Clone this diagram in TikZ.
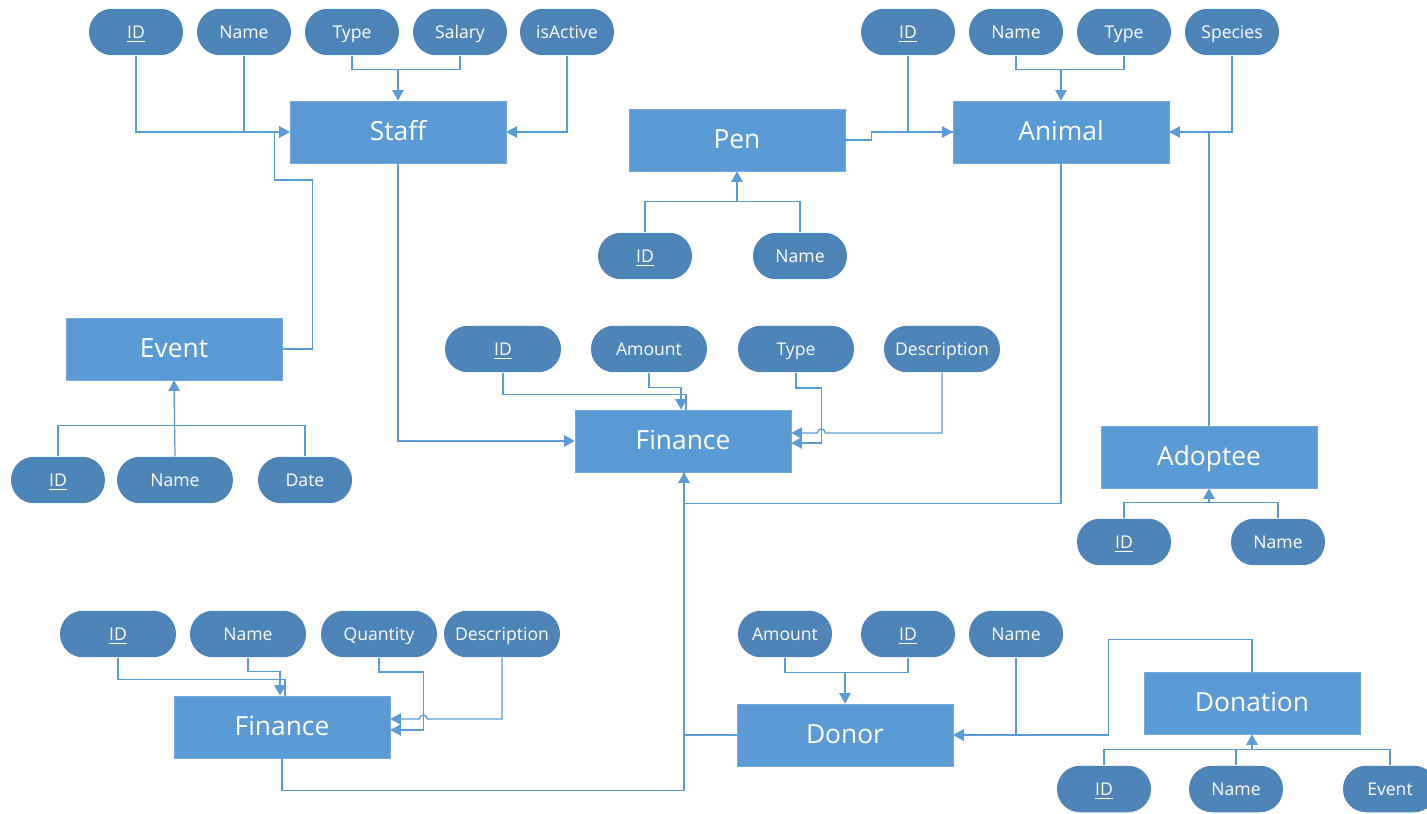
\documentclass[tikz,border=0pt]{standalone}
\usepackage{fontspec}
\setmainfont{Open Sans}
\usetikzlibrary{arrows.meta,calc}
\definecolor{entfill}{HTML}{5B9BD5}
\definecolor{attrfill}{HTML}{4E85B9}
\definecolor{linecol}{HTML}{5B9BD5}
\tikzset{
  ent/.style={rectangle, fill=entfill, draw=entfill!85!white, text=white, font=\fontsize{15}{18}\selectfont, minimum width=4.32cm, minimum height=1.24cm, inner sep=0pt, text height=12pt, text depth=2pt},
  attr/.style={rectangle, rounded corners=0.46cm, fill=attrfill, text=white, font=\fontsize{10}{12}\selectfont, minimum width=1.88cm, minimum height=0.93cm, inner sep=0pt, text height=9pt, text depth=1.5pt},
  wattr/.style={attr, minimum width=2.32cm},
  conn/.style={draw=linecol, line width=0.7pt},
  arr/.style={conn, -{Triangle[length=6pt,width=6.5pt]}}
}
\begin{document}
\begin{tikzpicture}[x=0.02cm,y=-0.02cm]
\useasboundingbox (0,0) rectangle (1427,814);
\clip (0,0) rectangle (1427,814);
% ---------- Staff ----------
\node[ent] (staff) at (398,132) {Staff};
\node[attr] (sID) at (136,32) {\underline{ID}};
\node[attr] (sName) at (244,32) {Name};
\node[attr] (sType) at (352,32) {Type};
\node[attr] (sSal) at (460,32) {Salary};
\node[attr] (sAct) at (567,32) {isActive};
% ---------- Event ----------
\node[ent] (event) at (174,349) {Event};
\node[attr] (eID) at (58,480) {\underline{ID}};
\node[wattr] (eName) at (175,480) {Name};
\node[attr] (eDate) at (305,480) {Date};
% ---------- Pen ----------
\node[ent] (pen) at (737,140) {Pen};
\node[attr] (pID) at (645,256) {\underline{ID}};
\node[attr] (pName) at (800,256) {Name};
% ---------- Animal ----------
\node[ent] (animal) at (1061,132) {Animal};
\node[attr] (aID) at (908,32) {\underline{ID}};
\node[attr] (aName) at (1016,32) {Name};
\node[attr] (aType) at (1124,32) {Type};
\node[attr] (aSpe) at (1232,32) {Species};
% ---------- Finance (upper) ----------
\node[ent] (fin) at (683,441) {Finance};
\node[wattr] (fID) at (503,349) {\underline{ID}};
\node[wattr] (fAmt) at (649,349) {Amount};
\node[wattr] (fType) at (796,349) {Type};
\node[wattr] (fDesc) at (942,349) {Description};
% ---------- Adoptee ----------
\node[ent] (adoptee) at (1209,457) {Adoptee};
\node[attr] (adID) at (1124,542) {\underline{ID}};
\node[attr] (adName) at (1278,542) {Name};
% ---------- Finance (lower) ----------
\node[ent] (fin2) at (282,727) {Finance};
\node[wattr] (f2ID) at (118,634) {\underline{ID}};
\node[wattr] (f2Name) at (248,634) {Name};
\node[wattr] (f2Q) at (379,634) {Quantity};
\node[wattr] (f2D) at (502,634) {Description};
% ---------- Donor ----------
\node[ent] (donor) at (845,735) {Donor};
\node[attr] (dAmt) at (785,634) {Amount};
\node[attr] (dID) at (908,634) {\underline{ID}};
\node[attr] (dName) at (1016,634) {Name};
% ---------- Donation ----------
\node[ent] (donation) at (1252,703) {Donation};
\node[attr] (dnID) at (1104,789) {\underline{ID}};
\node[attr] (dnName) at (1236,789) {Name};
\node[attr] (dnEv) at (1390,789) {Event};

% ===== connectors =====
% Staff attributes
\draw[arr] (sID.south) |- (staff.west);
\draw[conn] (sName.south) -- (sName.south |- staff.west);
\draw[conn] (sType.south) -- ++(0,14) -| (sSal.south);
\draw[arr] ($(staff.north)+(0,-31)$) -- (staff.north);
\draw[arr] (sAct.south) |- (staff.east);
% Event -> Staff
\draw[arr] (event.east) -- ++(30,0) -- ++(0,-169) -- ++(-38,0) |- (staff.west);
% Event attributes
\draw[conn] (eID.north) -- ++(0,-31) -| (eDate.north);
\draw[arr] (eName.north) -- (event.south);
% Staff -> Finance
\draw[arr] (staff.south) |- (fin.west);
% Finance attributes
\draw[conn] (fID.south) |- ($(fin.north)+(3,-15)$) -- ($(fin.north)+(3,0)$);
\draw[arr] (fAmt.south) |- ($(fin.north)+(-2,-22)$) -- ($(fin.north)+(-2,0)$);
\draw[arr] (fType.south) |- ($(fin.east)+(30,-53)$) |- ($(fin.east)+(0,2)$);
\draw[arr] (fDesc.south) |- ($(fin.east)+(34,-8)$) arc[start angle=0, end angle=-180, radius=4] -- ($(fin.east)+(0,-8)$);
% Animal -> Finance
\draw[arr] (animal.south) |- ($(fin.south)+(1,31)$) -- ($(fin.south)+(1,0)$);
% Pen -> Animal
\draw[arr] (pen.east) -- ++(26,0) |- (animal.west);
% Pen attributes
\draw[conn] (pID.north) -- ++(0,-31) -| (pName.north);
\draw[arr] ($(pen.south)+(0,31)$) -- (pen.south);
% Animal attributes
\draw[conn] (aID.south) |- (animal.west);
\draw[conn] (aName.south) -- ++(0,14) -| (aType.south);
\draw[arr] ($(animal.north)+(0,-31)$) -- (animal.north);
\draw[arr] (aSpe.south) |- (animal.east);
% Adoptee -> Animal
\draw[conn] (adoptee.north) |- (animal.east);
% Adoptee attributes
\draw[conn] (adID.north) -- ++(0,-16) -| (adName.north);
\draw[arr] ($(adoptee.south)+(0,15)$) -- (adoptee.south);
% Donor -> Finance
\draw[conn] (donor.west) -| ($(fin.south)+(1,0)$);
% Lower Finance -> Finance
\draw[conn] (fin2.south) -- ++(0,32) -| ($(fin.south)+(1,0)$);
% Lower Finance attributes
\draw[conn] (f2ID.south) |- ($(fin2.north)+(3,-16)$) -- ($(fin2.north)+(3,0)$);
\draw[arr] (f2Name.south) |- ($(fin2.north)+(-2,-24)$) -- ($(fin2.north)+(-2,0)$);
\draw[arr] (f2Q.south) |- ($(fin2.east)+(33,-55)$) |- ($(fin2.east)+(0,3)$);
\draw[arr] (f2D.south) |- ($(fin2.east)+(37,-8)$) arc[start angle=0, end angle=-180, radius=4] -- ($(fin2.east)+(0,-8)$);
% Donor attributes
\draw[conn] (dAmt.south) -- ++(0,15) -| (dID.south);
\draw[arr] ($(donor.north)+(0,-32)$) -- (donor.north);
\draw[arr] (dName.south) |- (donor.east);
% Donation -> Donor
\draw[arr] (donation.north) -- ++(0,-32) -| ($(donor.east)+(155,0)$) -- (donor.east);
% Donation attributes
\draw[conn] (dnID.north) -- ++(0,-16) -| (dnEv.north);
\draw[conn] (dnName.north) -- ++(0,-16);
\draw[arr] ($(donation.south)+(0,16)$) -- (donation.south);
\end{tikzpicture}
\end{document}
